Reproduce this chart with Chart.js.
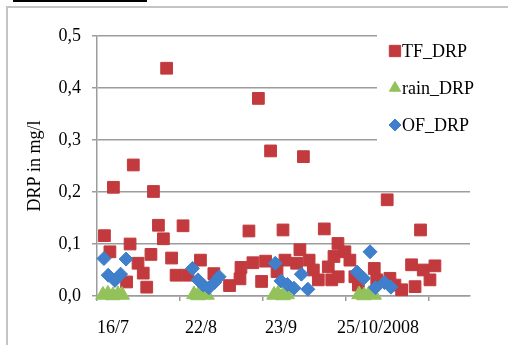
<!DOCTYPE html>
<html>
<head>
<meta charset="utf-8">
<script src="https://cdn.jsdelivr.net/npm/chart.js@4.4.1/dist/chart.umd.min.js"></script>
<style>
    body { margin: 0; background: #fff; }
</style>
</head>
<body>
<canvas id="drpChart" width="508" height="345"></canvas>
<script>
// x = sampling day, counted from 10/7/2008
const tfDays = [3.0, 5.2, 6.6, 11.9, 13.3, 14.6, 16.5, 18.6, 20.0, 21.7,
    22.7, 24.7, 26.7, 28.0, 30.0, 31.8, 34.6, 36.6, 41.6, 47.0,
    53.3, 57.5, 57.9, 61.1, 62.7, 64.9, 66.2, 67.8, 69.8, 72.4,
    74.8, 75.6, 80.3, 81.6, 83.0, 85.3, 87.0, 89.0, 91.4, 93.0,
    94.4, 95.3, 96.9, 97.0, 99.7, 101.7, 103.7, 105.1, 111.5, 112.5,
    116.7, 117.8, 119.8, 122.5, 126.5, 127.9, 130.1, 131.2, 133.9, 135.9];
const tfValues = [0.116, 0.085, 0.209, 0.027, 0.100, 0.252, 0.063, 0.044, 0.017, 0.080,
    0.201, 0.136, 0.110, 0.438, 0.073, 0.040, 0.135, 0.040, 0.069, 0.043,
    0.020, 0.033, 0.055, 0.125, 0.064, 0.380, 0.028, 0.067, 0.279, 0.047,
    0.127, 0.069, 0.063, 0.089, 0.268, 0.069, 0.050, 0.031, 0.129, 0.056,
    0.031, 0.076, 0.101, 0.037, 0.085, 0.069, 0.037, 0.021, 0.053, 0.031,
    0.185, 0.034, 0.021, 0.012, 0.060, 0.018, 0.127, 0.050, 0.031, 0.058];

const rainDays = [2.4, 4.4, 6.4, 8.4, 10.1, 39.0, 40.6, 42.6, 44.2,
    71.2, 72.8, 74.8, 76.4, 105.4, 107.4, 109.4, 111.4];
const rainValues = [0.002, 0.004, 0.001, 0.003, 0.002, 0.003, 0.001, 0.004, 0.002,
    0.002, 0.004, 0.001, 0.003, 0.003, 0.001, 0.004, 0.002];

const ofDays = [2.8, 4.5, 7.2, 9.5, 11.7, 38.4, 40.6, 42.7, 45.0, 47.3, 49.1,
    71.7, 74.0, 76.6, 79.2, 82.2, 84.8, 104.6, 107.2, 109.8, 112.0, 115.6, 118.2];
const ofValues = [0.072, 0.040, 0.030, 0.042, 0.071, 0.053, 0.031, 0.021, 0.016, 0.026, 0.037,
    0.063, 0.029, 0.022, 0.015, 0.042, 0.013, 0.046, 0.034, 0.085, 0.016, 0.026, 0.017];

const tickDays = [0, 33.4, 66.8, 100.2, 133.6];
const labelDays = [6.4, 41.8, 74, 113];
const dateLabels = ['16/7', '22/8', '23/9', '25/10/2008'];

const GRID = '#9c9c9c';
const FONT = '"Liberation Serif", "Times New Roman", serif';

Chart.defaults.font.family = FONT;
Chart.defaults.font.size = 18;
Chart.defaults.color = '#000';

function toPoints(days, values) {
    return days.map((d, i) => ({x: d, y: values[i]}));
}

const framePlugin = {
    id: 'frame',
    beforeDraw(chart) {
        const ctx = chart.ctx;
        ctx.save();
        ctx.fillStyle = '#fff';
        ctx.fillRect(0, 0, chart.width, chart.height);
        ctx.strokeStyle = '#c4c4c4';
        ctx.lineWidth = 2;
        ctx.beginPath();
        ctx.moveTo(7, chart.height);
        ctx.lineTo(7, 7);
        ctx.lineTo(chart.width, 7);
        ctx.stroke();
        ctx.fillStyle = '#000';
        ctx.fillRect(13, 0, 134, 2);
        ctx.restore();
    }
};

const legendPlugin = {
    id: 'sideLegend',
    beforeDatasetsDraw(chart) {
        const ctx = chart.ctx;
        const area = chart.chartArea;
        const left = area.right - 93;
        ctx.save();
        ctx.fillStyle = '#fff';
        ctx.fillRect(left, area.top - 10, chart.width - left, 134);
        ctx.font = '18px ' + FONT;
        ctx.textBaseline = 'middle';
        chart.data.datasets.forEach((ds, i) => {
            const y = area.top + 15 + i * 37;
            const x = left + 18;
            ctx.fillStyle = ds.backgroundColor;
            ctx.strokeStyle = ds.borderColor;
            ctx.lineWidth = 1;
            Chart.helpers.drawPoint(ctx, {
                pointStyle: ds.pointStyle,
                radius: ds.legendRadius,
                rotation: 0,
                borderWidth: 1
            }, x, y);
            ctx.fillStyle = '#000';
            ctx.fillText(ds.label, x + 7, y + 1);
        });
        ctx.restore();
    }
};

new Chart(document.getElementById('drpChart'), {
    type: 'scatter',
    data: {
        datasets: [{
            label: 'TF_DRP',
            data: toPoints(tfDays, tfValues),
            pointStyle: 'rect',
            pointRadius: 8.3,
            legendRadius: 8,
            backgroundColor: '#c23a3d',
            borderColor: '#c23a3d',
            borderWidth: 1,
            order: 3,
            clip: false
        }, {
            label: 'rain_DRP',
            data: toPoints(rainDays, rainValues),
            pointStyle: 'triangle',
            pointRadius: 8.5,
            legendRadius: 6.5,
            backgroundColor: '#93c25a',
            borderColor: '#93c25a',
            borderWidth: 1,
            order: 2,
            clip: false
        }, {
            label: 'OF_DRP',
            data: toPoints(ofDays, ofValues),
            pointStyle: 'rectRot',
            pointRadius: 7,
            legendRadius: 6,
            backgroundColor: '#3f7fcb',
            borderColor: '#3f7fcb',
            borderWidth: 1,
            order: 1,
            clip: false
        }]
    },
    options: {
        responsive: false,
        animation: false,
        layout: {padding: {left: 20, top: 36, right: 38, bottom: 0}},
        plugins: {
            legend: {display: false},
            tooltip: {enabled: false}
        },
        scales: {
            x: {
                type: 'linear',
                min: 0,
                max: 150,
                afterBuildTicks: axis => {
                    axis.ticks = tickDays.concat(labelDays)
                        .sort((a, b) => a - b)
                        .map(v => ({value: v}));
                },
                afterFit: axis => { axis.height = 49; },
                ticks: {
                    autoSkip: false,
                    maxRotation: 0,
                    padding: 16,
                    callback: value => {
                        const i = labelDays.indexOf(value);
                        return i >= 0 ? dateLabels[i] : '';
                    }
                },
                grid: {
                    drawOnChartArea: false,
                    tickLength: 5,
                    lineWidth: 1.5,
                    tickColor: ctx => (ctx.tick && labelDays.includes(ctx.tick.value)) ? 'rgba(0,0,0,0)' : GRID
                },
                border: {color: GRID, width: 1.5}
            },
            y: {
                min: 0,
                max: 0.5,
                afterFit: axis => { axis.width = 77; },
                ticks: {
                    stepSize: 0.1,
                    padding: 11,
                    callback: v => v.toFixed(1).replace('.', ',')
                },
                grid: {color: GRID, lineWidth: 1.5, tickLength: 5},
                border: {color: GRID, width: 1.5},
                title: {display: true, text: 'DRP in mg/l', font: {size: 18}}
            }
        }
    },
    plugins: [framePlugin, legendPlugin]
});
</script>
</body>
</html>
